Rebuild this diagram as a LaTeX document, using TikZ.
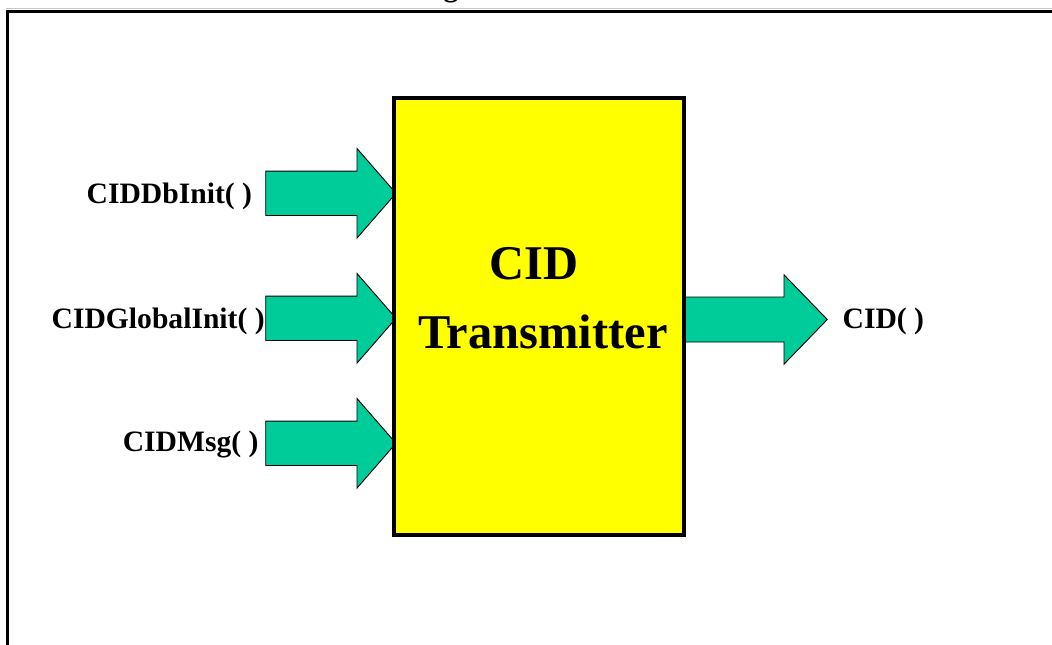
\documentclass[tikz,border=0pt]{standalone}
\usepackage{fontspec}
\setmainfont{Liberation Serif}
\usetikzlibrary{calc}
\definecolor{boxyellow}{RGB}{255,255,0}
\definecolor{arrowgreen}{RGB}{0,204,153}
\tikzset{
  frameline/.style={line width=3.2bp, black},
  mainbox/.style={draw=black, fill=boxyellow, line width=3.8bp, rectangle, minimum width=290bp, minimum height=436.7bp, inner sep=0pt},
  arrowfill/.style={draw=black, fill=arrowgreen, line width=0.9bp, line join=miter},
  lbl/.style={font=\fontsize{29.6bp}{34bp}\selectfont\bfseries, inner sep=0pt, outer sep=0pt},
  biglbl/.style={font=\fontsize{48.5bp}{56bp}\selectfont\bfseries, inner sep=0pt, outer sep=0pt}
}
% #1 tip coordinate, #2 total length, #3 head length, #4 shaft half height, #5 head half height
\newcommand\blockarr[5]{%
  \draw[arrowfill] (#1) -- ++(-#3,-#5) -- ++(0,{#5-#4}) -- ++({-(#2-#3)},0)
    -- ++(0,{2*#4}) -- ++({#2-#3},0) -- ++(0,{#5-#4}) -- cycle;}
\begin{document}
\begin{tikzpicture}[x=1bp,y=-1bp]
\useasboundingbox (0,0) rectangle (1052,645);
% clipped title fragment
\begin{scope}
  \clip (0,0) rectangle (1052,7);
  \node[lbl, anchor=base] (title) at (451,-3.5) {g};
\end{scope}
% frame
\coordinate (ftl) at (7.5,11.3);
\coordinate (ftr) at (1052,11.3);
\coordinate (fbl) at (7.5,645);
\draw[gray!45, line width=1bp] (6,8.6) -- (1052,8.6);
\draw[frameline] (fbl) -- (ftl) -- (ftr);
% arrows
\coordinate (t1) at (396,193.3);
\coordinate (t2) at (396,318.3);
\coordinate (t3) at (396,443.3);
\coordinate (t4) at (827.3,319.5);
\blockarr{t1}{130.3}{39}{22.2}{44.8}
\blockarr{t2}{130.3}{39}{22.2}{44.8}
\blockarr{t3}{130.3}{39}{22.2}{44.8}
\blockarr{t4}{142.3}{43.3}{22.5}{44.7}
% box
\node[mainbox] (box) at (539,316.3) {};
\node[biglbl, anchor=base] (cid) at (534,279.3) {CID};
\node[biglbl, anchor=base] (tx) at (543,348.3) {Transmitter};
% labels
\node[lbl, anchor=base east] (l1) at (252,203.3) {CIDDbInit( )};
\node[lbl, anchor=base west] (l2) at (51.7,328.3) {CIDGlobalInit( )};
\node[lbl, anchor=base east] (l3) at (258.5,451.7) {CIDMsg( )};
\node[lbl, anchor=base west] (l4) at (842.7,328.3) {CID( )};
\end{tikzpicture}
\end{document}
